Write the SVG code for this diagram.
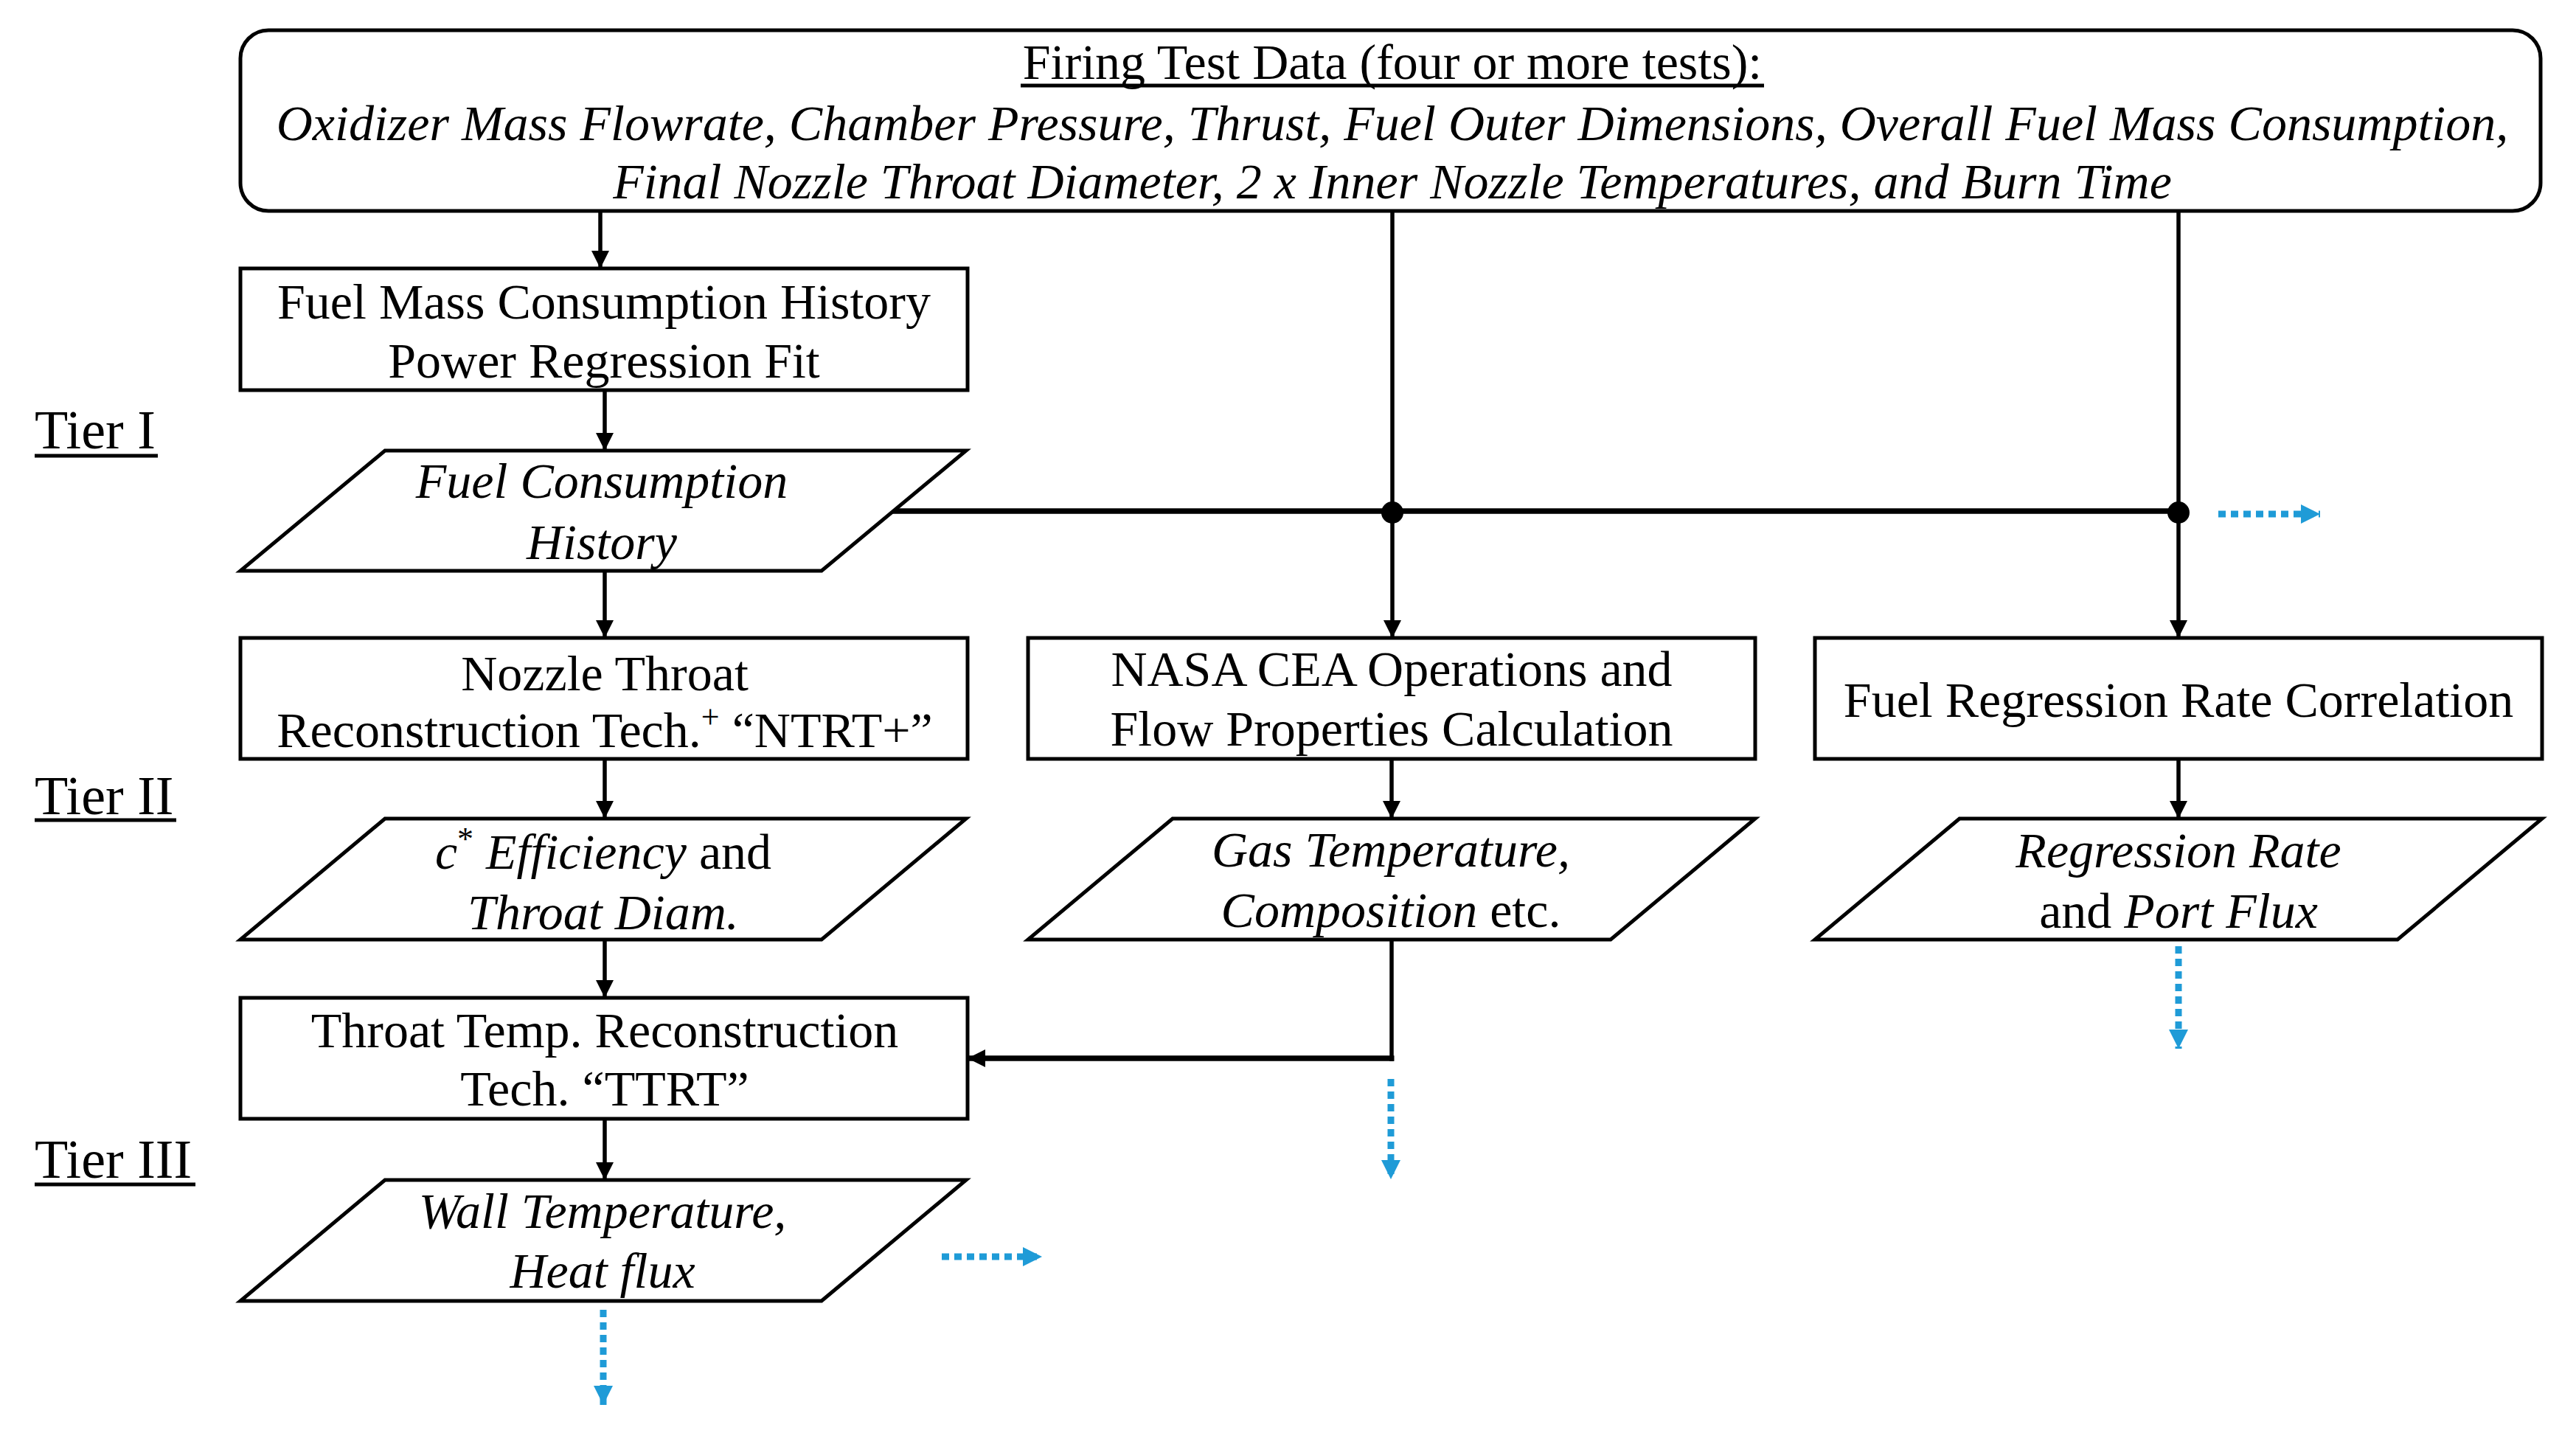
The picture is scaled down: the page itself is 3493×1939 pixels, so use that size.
<svg xmlns="http://www.w3.org/2000/svg" width="3493" height="1939" viewBox="0 0 3493 1939">
<style>
text{font-family:"Liberation Serif","Times New Roman",serif;font-size:68px;fill:#000;text-anchor:middle}
.it{font-style:italic}
.tier{font-size:74px;text-anchor:start}
.ul{stroke:#000;stroke-width:5}
.shape{fill:#fff;stroke:#000;stroke-width:5}
.con{fill:none;stroke:#000;stroke-width:5.5}
.bus{fill:none;stroke:#000;stroke-width:7.5}
.blue{fill:none;stroke:#1f9bd7;stroke-width:9;stroke-dasharray:10 7}
</style>
<defs>
<marker id="ah" markerUnits="userSpaceOnUse" markerWidth="26" markerHeight="26" refX="24" refY="12" orient="auto">
<path d="M0,0 L24,12 L0,24 z" fill="#000"/>
</marker>
<marker id="bh" markerUnits="userSpaceOnUse" markerWidth="28" markerHeight="28" refX="26" refY="13" orient="auto">
<path d="M0,0 L26,13 L0,26 z" fill="#1f9bd7"/>
</marker>
</defs>
<rect width="3493" height="1939" fill="#fff"/>

<g id="connectors">
<line class="con" x1="814" y1="286" x2="814" y2="364" marker-end="url(#ah)"/>
<line class="con" x1="820" y1="529" x2="820" y2="611" marker-end="url(#ah)"/>
<line class="con" x1="820" y1="774" x2="820" y2="865" marker-end="url(#ah)"/>
<line class="con" x1="820" y1="1029" x2="820" y2="1110" marker-end="url(#ah)"/>
<line class="con" x1="820" y1="1274" x2="820" y2="1353" marker-end="url(#ah)"/>
<line class="con" x1="820" y1="1517" x2="820" y2="1600" marker-end="url(#ah)"/>
<line class="con" x1="1888" y1="286" x2="1888" y2="865" marker-end="url(#ah)"/>
<line class="con" x1="2954" y1="286" x2="2954" y2="865" marker-end="url(#ah)"/>
<line class="con" x1="1887" y1="1029" x2="1887" y2="1110" marker-end="url(#ah)"/>
<line class="con" x1="2954" y1="1029" x2="2954" y2="1110" marker-end="url(#ah)"/>
<line class="bus" x1="1209" y1="693" x2="2954" y2="693"/>
<circle cx="1888" cy="695" r="15" fill="#000"/>
<circle cx="2954" cy="695" r="15" fill="#000"/>
<line class="con" x1="1887" y1="1274" x2="1887" y2="1439"/>
<line class="bus" x1="1890.5" y1="1435" x2="1312" y2="1435" marker-end="url(#ah)"/>
<line class="blue" x1="3008" y1="697" x2="3146" y2="697" marker-end="url(#bh)"/>
<line class="blue" x1="1277" y1="1704" x2="1413" y2="1704" marker-end="url(#bh)"/>
<line class="blue" x1="818" y1="1776" x2="818" y2="1905" marker-end="url(#bh)"/>
<line class="blue" x1="1886" y1="1463" x2="1886" y2="1599" marker-end="url(#bh)"/>
<line class="blue" x1="2954" y1="1283" x2="2954" y2="1422" marker-end="url(#bh)"/>
</g>

<g id="tiers">
<text class="tier" x="47" y="608">Tier I</text>
<line class="ul" x1="47" y1="618" x2="214" y2="618"/>
<text class="tier" x="47" y="1104">Tier II</text>
<line class="ul" x1="47" y1="1112" x2="239" y2="1112"/>
<text class="tier" x="47" y="1597">Tier III</text>
<line class="ul" x1="47" y1="1606" x2="265" y2="1606"/>
</g>

<g id="firing-test-data">
<rect class="shape" x="326" y="41" width="3119" height="245" rx="38" ry="38"/>
<text x="1888" y="107">Firing Test Data (four or more tests):</text>
<line class="ul" x1="1384" y1="116" x2="2392" y2="116"/>
<text class="it" x="1888" y="190">Oxidizer Mass Flowrate, Chamber Pressure, Thrust, Fuel Outer Dimensions, Overall Fuel Mass Consumption,</text>
<text class="it" x="1888" y="269">Final Nozzle Throat Diameter, 2 x Inner Nozzle Temperatures, and Burn Time</text>
</g>

<g id="power-regression">
<rect class="shape" x="326" y="364" width="986" height="165"/>
<text x="819" y="432">Fuel Mass Consumption History</text>
<text x="819" y="512">Power Regression Fit</text>
</g>

<g id="fuel-consumption-history">
<polygon class="shape" points="522,611 1310,611 1114,774 326,774"/>
<text class="it" x="816" y="675">Fuel Consumption</text>
<text class="it" x="816" y="758">History</text>
</g>

<g id="ntrt">
<rect class="shape" x="326" y="865" width="986" height="164"/>
<text x="820" y="936">Nozzle Throat</text>
<text x="820" y="1013">Reconstruction Tech.<tspan font-size="44" dy="-26">+</tspan><tspan dy="26"> “NTRT+”</tspan></text>
</g>

<g id="nasa-cea">
<rect class="shape" x="1394" y="865" width="986" height="164"/>
<text x="1887" y="930">NASA CEA Operations and</text>
<text x="1887" y="1011">Flow Properties Calculation</text>
</g>

<g id="regression-correlation">
<rect class="shape" x="2461" y="865" width="986" height="164"/>
<text x="2954" y="972">Fuel Regression Rate Correlation</text>
</g>

<g id="cstar-efficiency">
<polygon class="shape" points="522,1110 1310,1110 1114,1274 326,1274"/>
<text x="818" y="1178"><tspan class="it">c</tspan><tspan font-size="44" dy="-26">*</tspan><tspan class="it" dy="26"> Efficiency</tspan> and</text>
<text class="it" x="818" y="1260">Throat Diam.</text>
</g>

<g id="gas-temperature">
<polygon class="shape" points="1590,1110 2380,1110 2184,1274 1394,1274"/>
<text class="it" x="1886" y="1175">Gas Temperature,</text>
<text x="1886" y="1257"><tspan class="it">Composition</tspan> etc.</text>
</g>

<g id="regression-rate">
<polygon class="shape" points="2657,1110 3447,1110 3251,1274 2461,1274"/>
<text class="it" x="2954" y="1176">Regression Rate</text>
<text x="2954" y="1258">and <tspan class="it">Port Flux</tspan></text>
</g>

<g id="ttrt">
<rect class="shape" x="326" y="1353" width="986" height="164"/>
<text x="820" y="1420">Throat Temp. Reconstruction</text>
<text x="820" y="1499">Tech. “TTRT”</text>
</g>

<g id="wall-temperature">
<polygon class="shape" points="522,1600 1310,1600 1114,1764 326,1764"/>
<text class="it" x="817" y="1665">Wall Temperature,</text>
<text class="it" x="817" y="1746">Heat flux</text>
</g>
</svg>
